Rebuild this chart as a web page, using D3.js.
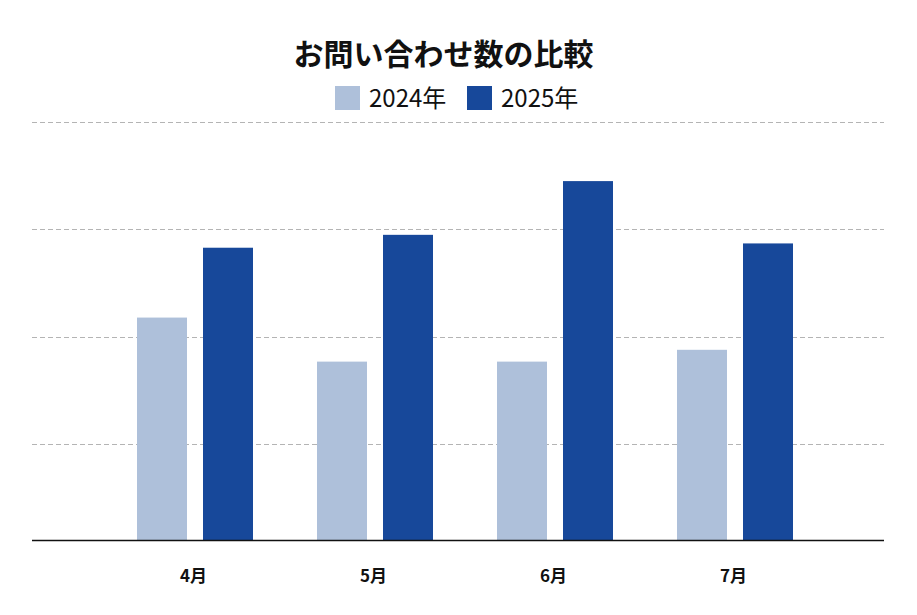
<!DOCTYPE html>
<html>
<head>
<meta charset="utf-8">
<script src="https://cdn.jsdelivr.net/npm/d3@7"></script>
<style>
  body { margin: 0; background: #fff; }
  svg { display: block; font-family: "Noto Sans CJK JP", "Noto Sans", sans-serif; }
</style>
</head>
<body>
<div id="chart"></div>
<script>
// Data
const months = ["4月", "5月", "6月", "7月"];
const seriesNames = ["2024年", "2025年"];
const values2024 = [218, 177, 177, 188];
const values2025 = [283, 295, 345, 287];
const gridTicks = [100, 200, 300, 400];
const colors = ["#aec0da", "#17489a"];

const W = 917, H = 615;
const svg = d3.select("#chart").append("svg")
  .attr("width", W)
  .attr("height", H);

// Plot area
const plotLeft = 32, plotRight = 884;
const baseY = 540, topY = 122;

const x0 = d3.scaleBand()
  .domain(months)
  .range([105, 825])
  .paddingInner(64 / 180)
  .paddingOuter(32 / 180);

const x1 = d3.scaleBand()
  .domain(seriesNames)
  .range([0, x0.bandwidth()])
  .paddingInner(16 / 66);

const y = d3.scaleLinear()
  .domain([11, 400])
  .range([baseY, topY]);

// Grid lines
svg.append("g")
  .attr("class", "grid")
  .selectAll("line")
  .data(gridTicks)
  .enter()
  .append("line")
  .attr("x1", plotLeft)
  .attr("x2", plotRight)
  .attr("y1", d => Math.round(y(d)) + 0.5)
  .attr("y2", d => Math.round(y(d)) + 0.5)
  .style("stroke", "#b4b4b4")
  .style("stroke-width", 1)
  .style("stroke-dasharray", "5,3");

// Bars
const table = months.map((m, i) => ({ month: m, vals: [values2024[i], values2025[i]] }));

const groups = svg.selectAll(".group")
  .data(table)
  .enter()
  .append("g")
  .attr("class", "group")
  .attr("transform", d => `translate(${x0(d.month)},0)`);

groups.selectAll("rect")
  .data(d => d.vals.map((v, j) => ({ key: seriesNames[j], value: v, idx: j })))
  .enter()
  .append("rect")
  .attr("x", d => x1(d.key))
  .attr("width", x1.bandwidth())
  .attr("y", d => y(d.value))
  .attr("height", d => baseY - y(d.value))
  .attr("fill", d => colors[d.idx]);

// X axis line
svg.append("line")
  .attr("x1", plotLeft)
  .attr("x2", plotRight)
  .attr("y1", baseY + 0.5)
  .attr("y2", baseY + 0.5)
  .style("stroke", "#111")
  .style("stroke-width", 1.3);

// Month labels
svg.selectAll(".month-label")
  .data(months)
  .enter()
  .append("text")
  .attr("class", "month-label")
  .attr("x", d => x0(d) + x0.bandwidth() / 2 - 1.5)
  .attr("y", 582)
  .attr("text-anchor", "middle")
  .style("font-size", "17px")
  .style("font-weight", "700")
  .style("fill", "#111")
  .text(d => d);

// Title
svg.append("text")
  .attr("x", 443.5)
  .attr("y", 65)
  .attr("text-anchor", "middle")
  .style("font-size", "30px")
  .style("font-weight", "700")
  .style("fill", "#111")
  .text("お問い合わせ数の比較");

// Legend
const legendX = [335, 467];
const legend = svg.selectAll(".legend")
  .data(seriesNames)
  .enter()
  .append("g")
  .attr("class", "legend")
  .attr("transform", (d, i) => `translate(${legendX[i]},86)`);

legend.append("rect")
  .attr("width", 25)
  .attr("height", 24)
  .attr("fill", (d, i) => colors[i]);

legend.append("text")
  .attr("x", 34)
  .attr("y", 21)
  .style("font-size", "24px")
  .style("fill", "#111")
  .text(d => d);
</script>
</body>
</html>
